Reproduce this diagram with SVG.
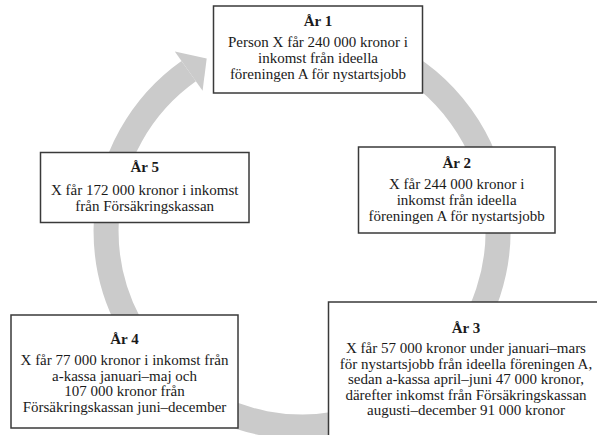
<svg xmlns="http://www.w3.org/2000/svg" width="597" height="435" viewBox="0 0 597 435">
<style>
.box{fill:#ffffff;stroke:#3a3a3a;stroke-width:1.5}
.t{font-family:"Liberation Serif","Times New Roman",serif;font-size:15px;fill:#1a1a1a;text-anchor:middle}
.h{font-weight:bold}
.ring{fill:none;stroke:#cbcbcb;stroke-width:25}
.head{fill:#cbcbcb}
</style>
<rect width="597" height="435" fill="#ffffff"/>
<g id="connectors">
<path class="ring" d="M 302 35 A 196 196 0 1 1 188.7 71.1"/>
<polygon class="head" points="174.8,51.5 206.7,58.4 202.6,90.7"/>
</g>
<g id="node-ar1">
<rect class="box" x="213.5" y="6" width="209" height="87"/>
<text class="t h" x="318" y="26">År 1</text>
<text class="t" x="318" y="47">Person X får 240 000 kronor i</text>
<text class="t" x="318" y="63">inkomst från ideella</text>
<text class="t" x="318" y="79">föreningen A för nystartsjobb</text>
</g>
<g id="node-ar2">
<rect class="box" x="358.5" y="147" width="196.5" height="86"/>
<text class="t h" x="456.7" y="168">År 2</text>
<text class="t" x="456.7" y="189">X får 244 000 kronor i</text>
<text class="t" x="456.7" y="205">inkomst från ideella</text>
<text class="t" x="456.7" y="221">föreningen A för nystartsjobb</text>
</g>
<g id="node-ar3">
<rect class="box" x="328.5" y="302" width="290" height="160"/>
<text class="t h" x="466" y="333">År 3</text>
<text class="t" x="466" y="353">X får 57 000 kronor under januari–mars</text>
<text class="t" x="466" y="368.5">för nystartsjobb från ideella föreningen A,</text>
<text class="t" x="466" y="384">sedan a-kassa april–juni 47 000 kronor,</text>
<text class="t" x="466" y="399.5">därefter inkomst från Försäkringskassan</text>
<text class="t" x="466" y="415">augusti–december 91 000 kronor</text>
</g>
<g id="node-ar4">
<rect class="box" x="11" y="315" width="227" height="113"/>
<text class="t h" x="124.5" y="344">År 4</text>
<text class="t" x="124.5" y="365">X får 77 000 kronor i inkomst från</text>
<text class="t" x="124.5" y="380.5">a-kassa januari–maj och</text>
<text class="t" x="124.5" y="396">107 000 kronor från</text>
<text class="t" x="124.5" y="411.5">Försäkringskassan juni–december</text>
</g>
<g id="node-ar5">
<rect class="box" x="40.5" y="152.5" width="208.5" height="70"/>
<text class="t h" x="144.7" y="172">År 5</text>
<text class="t" x="144.7" y="195">X får 172 000 kronor i inkomst</text>
<text class="t" x="144.7" y="211">från Försäkringskassan</text>
</g>
</svg>
